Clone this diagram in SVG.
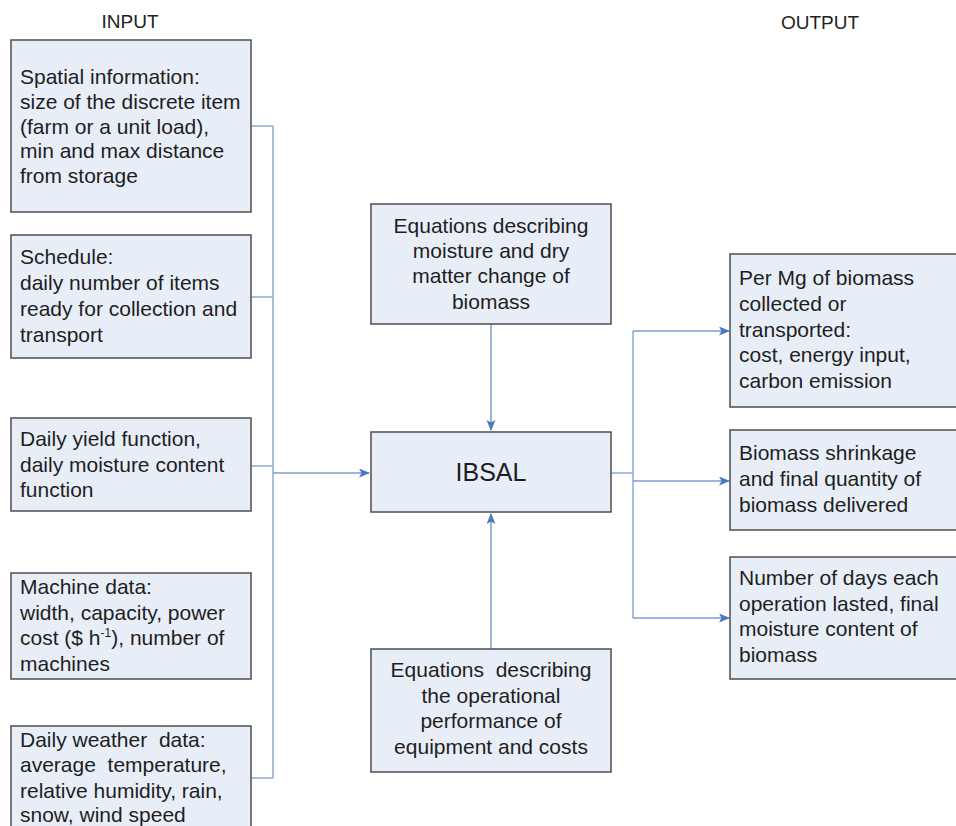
<svg xmlns="http://www.w3.org/2000/svg" width="956" height="826" viewBox="0 0 956 826">
<defs>
<marker id="ah" markerWidth="12" markerHeight="10" refX="10" refY="4.5" orient="auto" markerUnits="userSpaceOnUse">
<path d="M0,0 L11,4.5 L0,9 L2.5,4.5 Z" fill="#4a78c0"/>
</marker>
<style>
.box{fill:#e8eef8;stroke:#4d4d4d;stroke-width:1.5}
.t{font-family:"Liberation Sans",Arial,sans-serif;font-size:21px;fill:#1e1e1e}
.c{text-anchor:middle}
.hdr{font-family:"Liberation Sans",Arial,sans-serif;font-size:19px;fill:#222;text-anchor:middle}
.ln{fill:none;stroke:#8fa9d3;stroke-width:1.5}
.ar{fill:none;stroke:#7c9bd0;stroke-width:1.5;marker-end:url(#ah)}
</style>
</defs>
<rect width="956" height="826" fill="#ffffff"/>
<text class="hdr" x="130" y="28">INPUT</text>
<text class="hdr" x="820" y="29">OUTPUT</text>

<g id="connectors">
<path class="ln" d="M251,126 H273 M251,297 H273 M251,466 H273 M251,778 H273 M273,126 V778"/>
<path class="ar" d="M273,473 H369"/>
<path class="ar" d="M491,324 V430"/>
<path class="ar" d="M491,649 V514"/>
<path class="ln" d="M611,473 H633 M633,331 V618"/>
<path class="ar" d="M633,331 H729"/>
<path class="ar" d="M633,481 H729"/>
<path class="ar" d="M633,618 H729"/>
</g>

<g id="in1">
<rect class="box" x="11" y="40" width="240" height="172"/>
<text class="t" x="20" y="84">Spatial information:</text>
<text class="t" x="20" y="109">size of the discrete item</text>
<text class="t" x="20" y="134">(farm or a unit load),</text>
<text class="t" x="20" y="158">min and max distance</text>
<text class="t" x="20" y="183">from storage</text>
</g>
<g id="in2">
<rect class="box" x="11" y="235" width="240" height="123"/>
<text class="t" x="20" y="264">Schedule:</text>
<text class="t" x="20" y="290">daily number of items</text>
<text class="t" x="20" y="316">ready for collection and</text>
<text class="t" x="20" y="342">transport</text>
</g>
<g id="in3">
<rect class="box" x="11" y="418" width="240" height="93"/>
<text class="t" x="20" y="446">Daily yield function,</text>
<text class="t" x="20" y="472">daily moisture content</text>
<text class="t" x="20" y="497">function</text>
</g>
<g id="in4">
<rect class="box" x="11" y="573" width="240" height="106"/>
<text class="t" x="20" y="594">Machine data:</text>
<text class="t" x="20" y="620">width, capacity, power</text>
<text class="t" x="20" y="645">cost ($ h<tspan font-size="12" dy="-8">-1</tspan><tspan dy="8">), number of</tspan></text>
<text class="t" x="20" y="671">machines</text>
</g>
<g id="in5">
<rect class="box" x="11" y="726" width="240" height="120"/>
<text class="t" x="20" y="747" xml:space="preserve">Daily weather  data:</text>
<text class="t" x="20" y="772" xml:space="preserve">average  temperature,</text>
<text class="t" x="20" y="798">relative humidity, rain,</text>
<text class="t" x="20" y="822">snow, wind speed</text>
</g>

<g id="eq1">
<rect class="box" x="371" y="204" width="240" height="120"/>
<text class="t c" x="491" y="233">Equations describing</text>
<text class="t c" x="491" y="258">moisture and dry</text>
<text class="t c" x="491" y="283">matter change of</text>
<text class="t c" x="491" y="309">biomass</text>
</g>
<g id="ibsal">
<rect class="box" x="371" y="432" width="240" height="80"/>
<text class="t c" x="491" y="481" style="font-size:25px">IBSAL</text>
</g>
<g id="eq2">
<rect class="box" x="371" y="649" width="240" height="123"/>
<text class="t c" x="491" y="677" xml:space="preserve">Equations  describing</text>
<text class="t c" x="491" y="703">the operational</text>
<text class="t c" x="491" y="728">performance of</text>
<text class="t c" x="491" y="754">equipment and costs</text>
</g>

<g id="out1">
<rect class="box" x="730" y="254" width="240" height="153"/>
<text class="t" x="739" y="285">Per Mg of biomass</text>
<text class="t" x="739" y="311">collected or</text>
<text class="t" x="739" y="337">transported:</text>
<text class="t" x="739" y="362">cost, energy input,</text>
<text class="t" x="739" y="388">carbon emission</text>
</g>
<g id="out2">
<rect class="box" x="730" y="430" width="240" height="100"/>
<text class="t" x="739" y="460">Biomass shrinkage</text>
<text class="t" x="739" y="486">and final quantity of</text>
<text class="t" x="739" y="512">biomass delivered</text>
</g>
<g id="out3">
<rect class="box" x="730" y="557" width="240" height="122"/>
<text class="t" x="739" y="585">Number of days each</text>
<text class="t" x="739" y="611">operation lasted, final</text>
<text class="t" x="739" y="636">moisture content of</text>
<text class="t" x="739" y="662">biomass</text>
</g>
</svg>
